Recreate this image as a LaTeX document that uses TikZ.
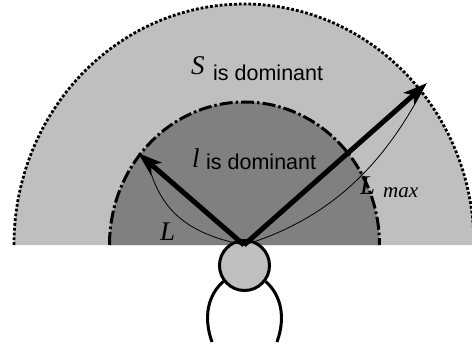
\documentclass[tikz,border=0pt]{standalone}
\usepackage{fontspec}
\setmainfont{Liberation Sans}
\newfontfamily\varfont[ItalicFont=* Italic]{Liberation Serif}
\usetikzlibrary{arrows.meta}

\begin{document}
\begin{tikzpicture}[
        x=1pt, y=1pt,
        >={Stealth[length=24pt, width=16pt, inset=6pt]},
        outerzone/.style={fill=black!25},
        innerzone/.style={fill=black!50},
        outeredge/.style={line width=2.8pt, dash pattern=on 2.8pt off 2pt},
        inneredge/.style={line width=3pt, dash pattern=on 13pt off 3pt on 2.5pt off 3pt},
        reach/.style={->, line width=5pt},
        span/.style={line width=0.8pt},
        body/.style={line width=3pt},
        head/.style={draw, circle, line width=3pt, fill=black!25, minimum size=50pt, inner sep=0pt},
        word/.style={font=\fontsize{21.5}{21.5}\selectfont, anchor=base west, inner sep=0pt},
        var/.style={font=\fontsize{27}{27}\selectfont\varfont\itshape, anchor=base west, inner sep=0pt},
        sub/.style={font=\fontsize{21}{21}\selectfont\varfont\itshape, anchor=base west, inner sep=0pt}
    ]
        \useasboundingbox (0,0) rectangle (472,349);

        % --- zones ---
        \coordinate (origin) at (244,104);
        \fill[outerzone] (14,104) arc[start angle=180, end angle=0, x radius=230, y radius=241] -- cycle;
        \fill[innerzone] (109.5,104) arc[start angle=180, end angle=0, x radius=135, y radius=143] -- cycle;
        \draw[outeredge] (14,104) arc[start angle=180, end angle=0, x radius=230, y radius=241];
        \draw[inneredge] (109.5,104) arc[start angle=180, end angle=0, x radius=135, y radius=143];

        % --- head and shoulders ---
        \node[head] (skull) at (244.5,83.5) {};
        \coordinate (leftbase) at (212,7);
        \coordinate (rightbase) at (277,7);
        \draw[body] (skull.217) .. controls (208,54) and (203,32) .. (leftbase);
        \draw[body] (skull.323) .. controls (281,54) and (286,32) .. (rightbase);

        % --- ranges ---
        \coordinate (neartip) at (138,196);
        \coordinate (fartip) at (427,266);
        \draw[reach] (origin) -- (neartip);
        \draw[reach] (origin) -- (fartip);
        \draw[span] (origin) .. controls (185,116) and (160,140) .. (148,186);
        \draw[span] (origin) .. controls (330,130) and (385,185) .. (425,264);

        % --- labels ---
        \node[var] (slabel) at (191,274) {S};
        \node[word] (sdom) at (213,269) {is dominant};
        \node[var] (llabel) at (192,182) {l};
        \node[word] (ldom) at (206,180) {is dominant};
        \node[var] (nearlabel) at (160,109) {L};
        \node[var] (farlabel) at (360,155) {L};
        \node[sub] (maxlabel) at (383,152) {max};
    \end{tikzpicture}
\end{document}
